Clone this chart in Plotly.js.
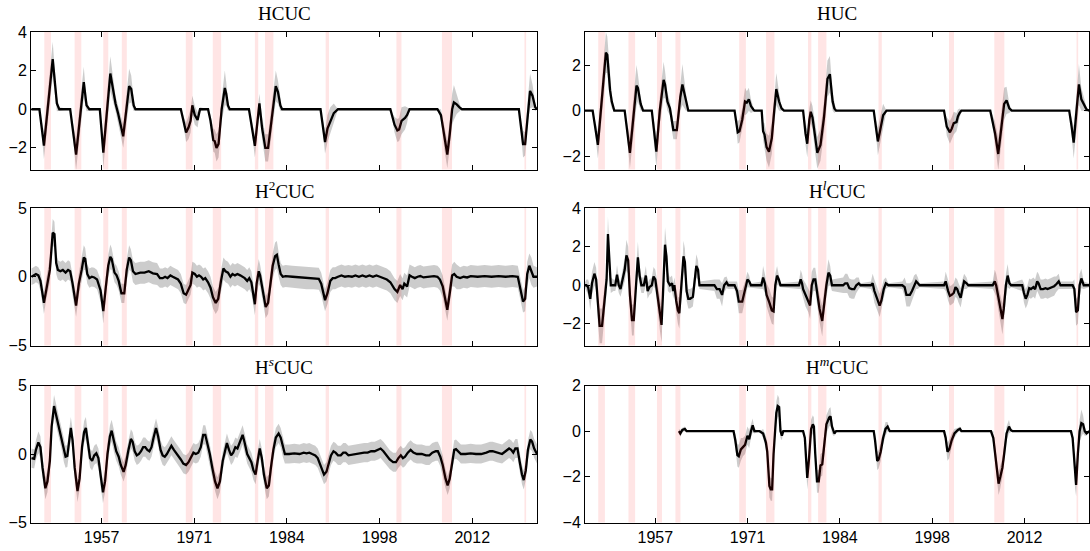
<!DOCTYPE html>
<html>
<head>
<meta charset="utf-8">
<script src="https://cdn.plot.ly/plotly-3.0.1.min.js"></script>
<style>html,body{margin:0;padding:0;background:#fff;}#chart{width:1090px;height:551px;}</style>
</head>
<body>
<div id="chart"></div>
<script>
// ---- Data ----
const recStart = [1948.75, 1953.25, 1957.5, 1960.25, 1969.75, 1973.75, 1980.0, 1981.5, 1990.5, 2001.0, 2007.75, 2020.0];
const recEnd   = [1949.75, 1954.25, 1958.25, 1961.0, 1970.75, 1975.0, 1980.5, 1982.75, 1991.0, 2001.75, 2009.25, 2020.25];
const tickYears = [1957.25, 1971.0, 1984.75, 1998.5, 2012.25];
const tickLabels = ['1957', '1971', '1984', '1998', '2012'];
const panelTitles = ['HCUC', 'HUC', 'H<sup>2</sup>CUC', 'H<sup><i>l</i></sup>CUC', 'H<sup><i>s</i></sup>CUC', 'H<sup><i>m</i></sup>CUC'];

// HCUC
const hcucX = [1946.85,1948.03,1948.70,1950.0,1950.62,1950.98,1952.59,1953.47,1954.61,1955.02,1955.44,1956.99,1957.51,1958.55,1959.32,1959.69,1960.46,1961.34,1961.65,1962.02,1962.28,1969.01,1969.79,1970.15,1970.46,1970.72,1971.08,1971.5,1971.86,1973.05,1973.42,1973.83,1974.04,1974.30,1974.61,1975.07,1975.54,1975.75,1976.01,1976.27,1979.12,1980.0,1980.67,1981.08,1981.55,1981.96,1983.1,1983.42,1983.78,1984.04,1989.74,1990.41,1990.77,1991.19,1991.71,1992.33,2000.10,2000.72,2001.14,2001.40,2001.76,2002.28,2002.59,2002.95,2007.09,2007.61,2008.13,2008.55,2008.91,2009.27,2009.53,2009.95,2010.36,2010.72,2019.17,2019.79,2020.10,2020.51,2020.83,2021.19,2021.60,2021.86];
const hcucEst = [0,0,-1.88,2.6,0.3,0,0,-2.35,1.4,0.2,0,0,-2.25,1.85,0.3,-0.2,-1.4,1.2,1.05,0.2,0,0,-1.2,-0.95,-0.6,0.2,-0.3,-0.55,0,0,-0.6,-1.6,-1.65,-2.0,-1.8,0,1.1,0.8,0.2,0,0,-1.9,0.3,-1.0,-2.0,-2.0,1.2,0.9,0.2,0,0,-1.7,-1.0,-0.6,-0.2,0,0,-0.8,-1.1,-1.05,-0.6,-0.45,-0.3,0,0,-0.3,-1.5,-2.35,-1.3,0,0.35,0.25,0.1,0,0,-1.8,-1.8,0,0.95,0.7,0.1,0];
const hcucErr = [0,0,0.7,0.9,0.4,0.1,0,0.8,0.8,0.3,0.05,0,0.8,0.9,0.4,0.4,0.6,0.9,0.7,0.3,0,0,0.5,0.6,0.6,0.5,0.5,0.4,0.1,0,0.3,0.6,0.6,0.7,0.7,0.6,0.9,0.6,0.3,0,0,0.6,0.5,0.6,0.7,0.7,0.8,0.6,0.3,0,0,0.6,0.7,0.7,0.5,0,0,0.4,0.6,0.6,0.7,0.6,0.4,0,0,0.3,0.6,0.7,0.7,0.8,0.9,0.5,0.2,0,0,0.7,0.6,0.6,0.9,0.6,0.2,0];

// HUC
const hucX = [1946.73,1947.92,1948.7,1949.89,1950.1,1950.51,1950.77,1951.14,1952.69,1953.47,1954.45,1954.66,1955.07,1955.44,1956.73,1957.04,1957.41,1957.92,1958.49,1958.7,1959.06,1959.43,1959.69,1959.94,1960.46,1960.98,1961.29,1961.81,1962.17,1969.06,1969.53,1969.79,1970.2,1970.62,1970.88,1971.19,1971.5,1971.86,1972.02,1973.1,1973.31,1973.52,1973.83,1974.19,1974.61,1974.97,1975.28,1975.69,1976.06,1976.42,1979.27,1979.63,1979.89,1980.2,1980.41,1980.67,1981.08,1981.39,1981.86,1982.38,1982.9,1983.26,1983.67,1983.93,1984.19,1989.79,1990.15,1990.41,1990.72,1991.19,1991.7,2000.26,2000.67,2001.14,2001.4,2001.71,2002.12,2002.33,2002.59,2002.85,2007.15,2007.51,2007.87,2008.34,2008.75,2009.22,2009.58,2009.99,2010.36,2018.91,2019.27,2019.58,2020.0,2020.36,2020.72,2021.08,2021.5,2021.91];
const hucEst = [0,0,-1.5,2.55,2.45,0.9,0.4,0,0,-1.85,1.1,1.0,0.3,0,0,-0.9,-1.8,0,1.35,1.15,0.4,0.1,-0.4,-0.85,-0.85,0.6,1.15,0.4,0,0,-0.95,-0.9,-0.4,0.4,0.35,0.5,0.2,0.05,0,0,-0.9,-1.05,-1.6,-1.8,-1.2,0,0.95,0.4,0.1,0,0,-1.0,-1.45,-0.4,-0.05,-0.3,-1.3,-1.85,-1.5,-0.3,1.4,1.6,0.4,0.1,0,0,-0.8,-1.35,-0.9,-0.2,0,0,-0.7,-0.95,-0.8,-0.55,-0.5,-0.25,-0.1,0,0,-0.5,-1.0,-1.9,-0.9,0.3,0.45,0.1,0,0,-0.7,-1.4,0,1.15,0.5,0.3,0.05,0];
const hucErr = [0,0,0.6,0.9,0.8,0.5,0.3,0,0,0.7,0.9,0.6,0.3,0,0,0.5,0.7,0.6,0.8,0.6,0.4,0.3,0.4,0.4,0.4,0.6,0.9,0.4,0,0,0.5,0.5,0.5,0.6,0.5,0.5,0.3,0.1,0,0,0.4,0.5,0.6,0.7,0.7,0.6,0.7,0.4,0.1,0,0,0.5,0.6,0.5,0.5,0.5,0.6,0.7,0.7,0.7,0.8,0.8,0.4,0.2,0,0,0.4,0.6,0.6,0.5,0,0,0.4,0.5,0.5,0.5,0.4,0.3,0.2,0,0,0.3,0.5,0.7,0.7,0.7,0.6,0.2,0,0,0.4,0.7,0.7,0.9,0.5,0.3,0.1,0];

// H2CUC
const h2X = [1946.85,1947.25,1947.51,1947.87,1948.18,1948.70,1949.06,1949.58,1950.0,1950.26,1950.52,1950.77,1951.14,1951.50,1951.91,1952.28,1952.59,1952.95,1953.47,1953.88,1954.30,1954.61,1954.82,1955.13,1955.44,1955.80,1956.16,1956.58,1957.10,1957.51,1957.87,1958.24,1958.55,1958.75,1959.17,1959.48,1959.79,1960.20,1960.62,1960.98,1961.34,1961.60,1961.91,1962.28,1963.0,1963.62,1964.25,1964.87,1965.49,1965.91,1966.32,1966.68,1967.04,1967.46,1967.82,1968.24,1968.60,1969.01,1969.43,1969.79,1970.15,1970.46,1970.72,1971.08,1971.40,1971.71,1972.02,1972.33,1972.64,1973.05,1973.42,1973.78,1974.19,1974.56,1974.97,1975.33,1975.64,1976.01,1976.37,1976.68,1977.04,1977.41,1977.82,1978.18,1978.49,1978.86,1979.17,1979.48,1979.74,1980.0,1980.26,1980.57,1980.77,1981.03,1981.34,1981.60,1981.96,1982.28,1982.64,1983.0,1983.26,1983.52,1983.83,1984.14,1984.56,1985.59,1986.63,1987.67,1988.70,1989.48,1989.84,1990.15,1990.41,1990.77,1991.19,1991.55,1991.91,1992.33,1992.85,1993.36,1993.88,1994.40,1994.92,1995.44,1995.96,1996.48,1997.0,1997.51,1998.03,1998.55,1999.07,1999.58,2000.10,2000.72,2001.14,2001.55,2001.91,2002.17,2002.59,2002.95,2003.31,2003.73,2004.14,2004.55,2005.02,2005.54,2006.06,2006.58,2007.09,2007.46,2007.87,2008.23,2008.55,2008.91,2009.27,2009.58,2009.94,2010.46,2010.98,2011.50,2012.02,2013.05,2014.09,2015.12,2016.16,2017.20,2018.23,2019.01,2019.37,2019.79,2020.10,2020.41,2020.72,2021.03,2021.34,2021.86];
const h2Est = [0.0,0.1,0.2,0.1,-0.3,-1.9,-0.8,0.5,3.2,3.1,1.0,0.5,0.4,0.5,0.3,0.5,0.4,-0.5,-2.1,-0.5,0.5,1.4,1.3,0.2,-0.1,0.0,-0.05,-0.2,-1.0,-2.5,-0.8,0.8,1.45,1.3,0.3,0.1,-0.3,-1.2,-1.2,0.5,1.4,1.2,0.4,0.2,0.3,0.3,0.4,0.25,0.2,-0.1,-0.1,0.0,-0.1,0.1,0.0,-0.1,-0.2,-0.5,-1.2,-1.3,-0.9,-0.6,0.3,0.2,0.0,0.1,0.0,-0.2,-0.1,-0.4,-0.8,-1.5,-1.9,-1.6,-0.3,0.6,0.4,0.3,0.0,0.2,0.1,0.2,0.1,0.0,-0.1,-0.3,-0.1,-0.4,-1.2,-2.0,-0.5,0.4,0.1,-0.6,-1.4,-2.2,-1.9,-0.5,0.8,1.5,1.6,0.9,0.2,0.0,0.05,0.0,-0.05,-0.1,-0.1,-0.15,-0.5,-1.2,-1.7,-1.2,-0.3,-0.1,-0.1,0.0,0.1,0.0,0.05,0.0,0.1,0.0,0.1,0.0,0.1,0.0,0.1,0.0,-0.1,-0.2,-0.4,-0.9,-1.1,-0.6,-0.9,-0.5,-0.7,0.1,0.0,-0.1,0.0,0.05,-0.05,0.0,0.05,0.05,0.0,-0.2,-0.7,-1.6,-2.4,-1.2,0.1,0.2,0.0,-0.1,0.0,-0.05,0.05,0.0,0.05,0.0,0.05,0.0,0.05,0.0,-0.8,-1.8,-1.6,0.2,0.8,0.4,0.0,0.0];
const h2Err = [0.6,0.6,0.6,0.6,0.7,0.8,0.8,0.9,1.0,0.9,0.8,0.7,0.7,0.7,0.7,0.7,0.7,0.7,0.8,0.8,0.8,0.9,0.8,0.7,0.7,0.7,0.7,0.7,0.8,0.9,0.8,0.8,0.9,0.8,0.7,0.7,0.7,0.7,0.7,0.8,0.9,0.8,0.8,0.8,0.8,0.8,0.8,0.8,0.8,0.7,0.7,0.7,0.7,0.7,0.7,0.7,0.7,0.7,0.7,0.7,0.7,0.7,0.8,0.8,0.8,0.8,0.8,0.8,0.8,0.8,0.8,0.8,0.8,0.8,0.8,0.8,0.8,0.8,0.8,0.8,0.8,0.8,0.8,0.8,0.8,0.8,0.8,0.8,0.8,0.8,0.8,0.9,0.8,0.8,0.8,0.8,0.8,0.8,0.9,1.0,1.0,0.9,0.8,0.8,0.8,0.8,0.8,0.8,0.8,0.8,0.8,0.8,0.8,0.8,0.8,0.8,0.8,0.8,0.8,0.8,0.8,0.8,0.8,0.8,0.8,0.8,0.8,0.8,0.8,0.8,0.8,0.8,0.8,0.8,0.8,0.8,0.8,0.8,0.8,0.8,0.8,0.8,0.8,0.8,0.8,0.8,0.8,0.8,0.8,0.8,0.8,0.8,0.8,0.9,0.8,0.9,0.9,0.8,0.8,0.8,0.8,0.8,0.8,0.8,0.8,0.8,0.8,0.8,0.8,0.8,0.9,0.9,0.9,1.0,0.8,0.7,0.7];

// HlCUC
const hlX = [1946.73,1946.99,1947.25,1947.56,1947.82,1948.18,1948.44,1948.70,1948.96,1949.32,1949.74,1950.0,1950.20,1950.41,1950.62,1951.03,1951.29,1951.55,1951.81,1952.07,1952.38,1952.69,1952.95,1953.21,1953.47,1953.78,1954.04,1954.35,1954.66,1954.92,1955.18,1955.54,1955.85,1956.11,1956.37,1956.73,1956.99,1957.25,1957.51,1957.92,1958.18,1958.39,1958.70,1958.91,1959.12,1959.43,1959.74,1959.94,1960.10,1960.36,1960.62,1960.83,1961.03,1961.29,1961.45,1961.66,1961.91,1962.17,1962.43,1962.85,1963.05,1963.36,1963.62,1963.83,1966.06,1966.42,1966.83,1967.20,1967.51,1967.87,1968.13,1969.06,1969.43,1969.69,1970.20,1970.62,1970.98,1971.24,1971.50,1973.05,1973.31,1973.57,1973.83,1974.25,1974.61,1974.87,1975.13,1975.39,1975.65,1975.90,1978.65,1978.91,1979.11,1979.27,1979.63,1980.05,1980.31,1980.56,1980.82,1981.08,1981.34,1981.71,1982.12,1982.43,1982.74,1983.05,1983.31,1983.57,1985.23,1985.54,1985.85,1986.16,1986.52,1986.89,1987.20,1987.56,1987.82,1989.37,1989.63,1989.89,1990.31,1990.67,1990.93,1991.29,1991.60,1991.97,1994.04,1994.40,1994.66,1995.18,1995.49,1995.80,1996.11,1996.37,1996.63,2000.26,2000.51,2000.88,2001.14,2001.40,2001.71,2001.97,2002.23,2002.43,2002.74,2003.0,2003.26,2003.62,2003.88,2007.51,2007.82,2008.03,2008.28,2008.65,2008.96,2009.17,2009.48,2009.74,2010.0,2010.26,2011.91,2012.17,2012.43,2012.69,2012.95,2013.21,2013.57,2013.83,2014.14,2014.35,2014.66,2015.02,2015.38,2015.69,2016.05,2016.31,2016.67,2016.98,2017.35,2017.61,2019.42,2019.68,2019.94,2020.20,2020.46,2020.72,2021.08,2021.91];
const hlEst = [0,0,-0.1,-0.7,0.1,0.6,0.3,-1.2,-2.1,-2.1,-0.6,0.3,2.65,1.5,0.0,0.0,0.0,0.55,0.0,-0.2,0.3,0.8,1.55,1.3,-0.5,-1.8,-1.8,0.0,1.45,0.5,0.0,0.0,0.5,-0.3,-0.1,0.0,0.45,0.3,-0.4,-1.5,-2.05,-0.5,2.1,1.5,0.2,0.0,0.1,-0.3,0.0,-0.8,-1.3,-1.45,-0.5,0.4,1.5,1.2,-0.3,-0.7,-0.7,-0.6,0.0,1.0,0.8,0.0,0.0,-0.2,-0.2,-0.5,0.0,0.15,0.0,0.0,-0.3,-0.85,-0.85,-0.3,0.3,0.2,0.0,0.0,0.4,0.1,-0.5,-0.9,-1.3,-1.35,0.0,0.5,0.3,0.0,0.0,0.3,0.1,-0.2,-0.5,-0.8,-1.05,0.0,0.3,0.3,-0.3,-1.2,-1.85,-0.8,0.0,0.65,0.5,0.0,0.0,0.1,0.1,-0.15,-0.2,-0.2,0.0,0.1,0.0,0.0,0.1,-0.3,-0.7,-1.05,-0.8,-0.2,0.1,0.0,0.0,-0.1,-0.5,-0.5,-0.3,0.0,0.2,0.1,0.0,0.0,0.2,-0.3,-0.55,-0.5,-0.4,-0.1,-0.2,-0.4,-0.65,-0.2,0.2,0.1,0.0,0.0,0.2,0.0,-0.5,-1.2,-1.75,-1.2,0.0,0.5,0.1,0.0,0.0,-0.4,-0.7,-0.5,-0.15,-0.2,-0.1,-0.2,0.2,0.1,-0.2,-0.2,-0.15,-0.2,-0.15,-0.1,-0.05,0.05,0.2,0.0,0.0,-0.2,-1.4,-1.3,0.0,0.35,0.0,0.0];
const hlErr = [0.1,0.3,0.4,0.6,0.6,0.6,0.6,0.7,0.9,0.9,0.7,0.7,0.9,0.7,0.4,0.3,0.3,0.5,0.4,0.4,0.5,0.6,0.8,0.7,0.6,0.8,0.8,0.6,0.8,0.5,0.4,0.4,0.5,0.4,0.4,0.4,0.5,0.5,0.6,0.8,0.9,0.7,0.9,0.7,0.5,0.4,0.4,0.4,0.4,0.6,0.7,0.8,0.7,0.7,0.8,0.7,0.5,0.5,0.5,0.5,0.5,0.6,0.5,0.2,0.3,0.5,0.5,0.6,0.4,0.3,0.2,0.2,0.5,0.6,0.6,0.5,0.4,0.3,0.1,0.2,0.6,0.5,0.6,0.7,0.7,0.7,0.6,0.5,0.3,0.1,0.2,0.5,0.5,0.5,0.6,0.6,0.7,0.7,0.6,0.6,0.6,0.7,0.8,0.7,0.6,0.7,0.5,0.3,0.4,0.5,0.5,0.5,0.5,0.5,0.4,0.3,0.1,0.2,0.5,0.6,0.6,0.6,0.6,0.5,0.3,0.1,0.2,0.5,0.6,0.6,0.5,0.5,0.4,0.3,0.1,0.2,0.5,0.5,0.5,0.5,0.5,0.5,0.5,0.5,0.5,0.5,0.4,0.3,0.1,0.2,0.6,0.6,0.6,0.7,0.8,0.7,0.6,0.6,0.3,0.1,0.3,0.5,0.5,0.5,0.5,0.5,0.5,0.5,0.5,0.5,0.5,0.5,0.5,0.5,0.5,0.5,0.5,0.4,0.4,0.2,0.2,0.5,0.7,0.7,0.6,0.5,0.2,0.1];

// HsCUC
const hsX = [1946.85,1947.25,1947.51,1947.87,1948.18,1948.49,1948.91,1949.22,1949.58,1949.84,1950.20,1950.52,1950.88,1951.29,1951.66,1951.91,1952.17,1952.43,1952.69,1952.95,1953.26,1953.68,1953.99,1954.35,1954.66,1954.92,1955.18,1955.54,1955.85,1956.16,1956.47,1956.78,1957.10,1957.46,1957.77,1958.13,1958.49,1958.75,1959.06,1959.43,1959.79,1960.10,1960.52,1960.83,1961.24,1961.60,1961.86,1962.17,1962.48,1962.80,1963.11,1963.42,1963.73,1964.04,1964.35,1964.66,1964.97,1965.33,1965.64,1966.01,1966.32,1966.63,1966.94,1967.25,1967.61,1967.98,1968.29,1968.60,1969.01,1969.38,1969.79,1970.15,1970.57,1970.88,1971.24,1971.60,1971.97,1972.33,1972.64,1972.95,1973.31,1973.68,1974.09,1974.45,1974.81,1975.23,1975.59,1975.85,1976.16,1976.47,1976.78,1977.10,1977.41,1977.82,1978.18,1978.49,1978.86,1979.17,1979.48,1979.79,1980.10,1980.41,1980.72,1981.03,1981.34,1981.76,1982.07,1982.38,1982.74,1983.11,1983.52,1983.83,1984.14,1984.45,1985.07,1985.85,1986.63,1987.25,1987.67,1988.08,1988.50,1988.96,1989.32,1989.74,1990.26,1990.62,1990.98,1991.29,1991.66,1991.97,1992.33,1992.74,1993.11,1993.47,1993.88,1994.40,1994.92,1995.54,1996.21,1996.73,1997.25,1997.77,1998.29,1998.65,1999.07,1999.48,2000.0,2000.51,2000.93,2001.29,2001.65,2001.97,2002.28,2002.69,2003.11,2003.52,2004.04,2004.76,2005.38,2005.90,2006.32,2006.84,2007.15,2007.51,2007.87,2008.29,2008.60,2008.91,2009.27,2009.58,2009.84,2010.21,2010.57,2011.24,2012.02,2012.80,2013.57,2014.35,2014.87,2015.28,2015.90,2016.68,2017.20,2017.72,2018.03,2018.34,2018.65,2018.96,2019.27,2019.63,2019.89,2020.20,2020.51,2020.87,2021.13,2021.44,2021.75,2021.86];
const hsEst = [-0.3,-0.35,0.3,0.85,0.5,-1.0,-2.5,-2.0,-0.5,2.0,3.5,2.8,2.0,1.2,0.2,-0.2,-0.15,1.0,1.9,1.0,-1.0,-2.7,-1.8,0.5,1.6,1.9,1.0,-0.3,-0.5,-0.1,0.05,-0.3,-1.5,-2.8,-2.0,0.0,1.3,1.7,1.0,0.2,-0.2,-0.8,-1.3,-0.8,0.3,1.1,0.9,0.2,-0.1,0.0,0.2,0.5,0.5,0.3,0.2,0.5,1.2,1.9,1.3,0.3,-0.1,-0.2,0.0,0.3,0.6,0.3,0.1,-0.1,-0.4,-0.7,-0.8,-0.6,-0.2,0.1,0.0,0.1,0.5,1.4,1.4,0.8,0.0,-1.0,-2.0,-2.5,-2.0,-0.5,0.4,0.8,0.3,-0.1,0.1,0.5,0.4,0.9,1.4,0.8,0.0,-0.3,-0.6,-1.2,-1.5,-0.5,0.4,-0.3,-1.5,-2.5,-2.3,-1.0,0.3,1.2,1.5,1.2,0.5,0.0,0.0,0.05,0.0,0.1,0.05,0.1,0.0,-0.1,-0.3,-0.9,-1.5,-1.3,-0.6,-0.1,0.2,0.1,-0.1,-0.1,0.1,0.1,-0.1,-0.05,0.0,0.05,0.1,0.1,0.2,0.2,0.3,0.4,0.2,-0.1,-0.4,-0.6,-0.6,-0.3,-0.1,-0.3,-0.2,0.1,0.3,0.1,0.0,0.0,-0.1,-0.1,0.1,0.2,0.2,-0.2,-0.8,-1.8,-2.3,-1.8,-0.5,0.3,0.35,0.2,0.0,0.0,0.05,0.0,0.0,0.1,0.2,0.2,0.1,0.0,0.2,0.4,0.3,0.1,0.4,0.4,-0.5,-1.5,-1.9,-1.2,0.3,1.05,0.9,0.4,0.1,0.0];
const hsErr = [0.7,0.7,0.7,0.8,0.8,0.8,0.8,0.8,0.8,0.8,0.8,0.8,0.8,0.8,0.8,0.8,0.8,0.8,0.8,0.8,0.8,0.8,0.8,0.8,0.8,0.8,0.8,0.7,0.7,0.7,0.7,0.7,0.8,0.8,0.8,0.8,0.8,0.8,0.8,0.7,0.7,0.7,0.7,0.7,0.7,0.7,0.7,0.7,0.7,0.7,0.7,0.7,0.7,0.7,0.7,0.7,0.7,0.7,0.7,0.7,0.7,0.7,0.7,0.7,0.7,0.7,0.7,0.7,0.7,0.7,0.7,0.7,0.7,0.7,0.7,0.7,0.7,0.7,0.7,0.7,0.7,0.7,0.7,0.8,0.8,0.7,0.7,0.7,0.7,0.7,0.7,0.7,0.7,0.7,0.7,0.7,0.7,0.7,0.7,0.7,0.7,0.7,0.7,0.7,0.7,0.8,0.8,0.7,0.7,0.7,0.7,0.7,0.7,0.7,0.7,0.7,0.7,0.7,0.7,0.7,0.7,0.7,0.7,0.7,0.7,0.7,0.7,0.7,0.7,0.7,0.7,0.7,0.7,0.7,0.7,0.7,0.7,0.7,0.7,0.7,0.7,0.7,0.7,0.7,0.7,0.7,0.7,0.7,0.7,0.7,0.7,0.7,0.7,0.7,0.7,0.7,0.7,0.7,0.7,0.7,0.7,0.7,0.7,0.7,0.7,0.7,0.7,0.7,0.7,0.7,0.7,0.7,0.7,0.7,0.7,0.7,0.7,0.7,0.7,0.7,0.7,0.7,0.7,0.7,0.7,0.7,0.7,0.7,0.7,0.7,0.7,0.7,0.7,0.7,0.7,0.7,0.7,0.7];

// HmCUC
const hmX = [1960.77,1960.98,1961.29,1961.66,1961.91,1968.91,1969.17,1969.48,1969.69,1970.0,1970.31,1970.62,1970.98,1971.24,1971.50,1971.76,1972.02,1972.79,1973.31,1973.73,1973.93,1974.25,1974.45,1974.66,1974.87,1975.07,1975.28,1975.49,1975.70,1975.90,1976.11,1976.32,1979.27,1979.53,1979.69,1979.89,1980.15,1980.46,1980.72,1980.88,1981.08,1981.34,1981.60,1981.86,1982.12,1982.43,1982.74,1983.16,1983.36,1983.57,1983.78,1983.93,1984.19,1989.79,1989.99,1990.31,1990.51,1990.83,1991.19,1991.55,1991.86,1992.17,2000.26,2000.51,2000.77,2001.03,2001.40,2001.81,2002.33,2002.64,2002.85,2007.25,2007.61,2008.03,2008.39,2008.65,2008.96,2009.22,2009.58,2009.94,2010.20,2010.46,2019.16,2019.42,2019.78,2019.94,2020.20,2020.46,2020.72,2020.98,2021.23,2021.49,2021.91];
const hmEst = [0.0,-0.1,0.05,0.1,0.0,0.0,-0.4,-1.05,-1.1,-0.8,-0.7,-0.6,-0.2,-0.35,0.0,0.25,0.0,0.0,-0.1,-0.5,-0.9,-2.4,-2.55,-2.55,-1.0,0.0,0.8,1.1,1.05,0.0,-0.2,0.0,0.0,-0.3,-1.0,-2.05,-1.2,0.1,0.3,0.2,-1.0,-2.2,-2.2,-1.5,-1.45,-0.5,0.3,0.6,0.65,0.2,0.0,-0.1,0.0,0.0,-0.4,-1.3,-1.25,-0.9,-0.3,0.1,0.2,0.0,0.0,-0.3,-0.9,-0.8,-0.4,-0.1,0.05,0.1,0.0,0.0,-0.3,-1.4,-2.3,-2.0,-1.6,-1.0,-0.1,0.2,0.05,0.0,0.0,-0.3,-2.0,-2.35,-1.0,0.0,0.35,0.3,0.0,-0.1,0.0];
const hmErr = [0.1,0.15,0.1,0.1,0.0,0.0,0.3,0.5,0.5,0.5,0.4,0.4,0.4,0.4,0.3,0.3,0.1,0.0,0.2,0.3,0.4,0.5,0.5,0.5,0.5,0.4,0.5,0.5,0.4,0.3,0.2,0.0,0.0,0.2,0.4,0.5,0.5,0.4,0.4,0.4,0.5,0.5,0.5,0.5,0.5,0.4,0.4,0.4,0.4,0.3,0.2,0.1,0.0,0.0,0.3,0.4,0.4,0.4,0.3,0.3,0.2,0.0,0.0,0.3,0.4,0.4,0.3,0.2,0.1,0.1,0.0,0.0,0.3,0.4,0.5,0.5,0.4,0.4,0.3,0.3,0.1,0.0,0.0,0.3,0.5,0.5,0.5,0.5,0.6,0.4,0.2,0.1,0.0];

// ---- Panels ----
const panels = [
  {x: hcucX, est: hcucEst, err: hcucErr, yr: [-3.12, 4], yt: [-2, 0, 2, 4]},
  {x: hucX,  est: hucEst,  err: hucErr,  yr: [-2.58, 3.45], yt: [-2, 0, 2]},
  {x: h2X,   est: h2Est,   err: h2Err,   yr: [-5, 5], yt: [-5, 0, 5]},
  {x: hlX,   est: hlEst,   err: hlErr,   yr: [-3.12, 4], yt: [-2, 0, 2, 4]},
  {x: hsX,   est: hsEst,   err: hsErr,   yr: [-5, 5], yt: [-5, 0, 5]},
  {x: hmX,   est: hmEst,   err: hmErr,   yr: [-4, 2], yt: [-4, -2, 0, 2]}
];

const W = 1090, H = 551;
const colPx = [[31, 537], [585, 1089]];
const rowPx = [[32, 169.5], [208, 345.5], [385.5, 522.5]];
const titleYpx = [13, 190, 366];
const xRange = [1946.78, 2021.86];

const traces = [];
const layout = {
  width: W, height: H,
  margin: {l: 0, r: 0, t: 0, b: 0, pad: 0},
  paper_bgcolor: '#ffffff', plot_bgcolor: '#ffffff',
  showlegend: false,
  shapes: [], annotations: []
};

panels.forEach((p, i) => {
  const col = i % 2, row = Math.floor(i / 2);
  const n = i + 1;
  const xa = n === 1 ? 'x' : 'x' + n, ya = n === 1 ? 'y' : 'y' + n;
  const xk = n === 1 ? 'xaxis' : 'xaxis' + n, yk = n === 1 ? 'yaxis' : 'yaxis' + n;
  const hi = p.est.map((v, k) => v + p.err[k]);
  const lo = p.est.map((v, k) => v - p.err[k]);
  traces.push({
    x: p.x.concat(p.x.slice().reverse()),
    y: hi.concat(lo.slice().reverse()),
    xaxis: xa, yaxis: ya, type: 'scatter', mode: 'lines',
    fill: 'toself', fillcolor: 'rgba(0,0,0,0.2)', line: {width: 0}, hoverinfo: 'skip'
  });
  traces.push({
    x: p.x, y: p.est, xaxis: xa, yaxis: ya, type: 'scatter', mode: 'lines',
    line: {color: '#000000', width: 2.3}, hoverinfo: 'skip'
  });
  const d = colPx[col], r = rowPx[row];
  layout[xk] = {
    domain: [d[0] / W, d[1] / W], anchor: ya, range: xRange,
    tickmode: 'array', tickvals: tickYears, ticktext: tickLabels,
    showticklabels: row === 2,
    ticks: 'inside', ticklen: 5, tickwidth: 1, tickcolor: '#000',
    showline: true, linecolor: '#000', linewidth: 1, mirror: 'ticks',
    showgrid: false, zeroline: false,
    tickfont: {family: 'Liberation Sans, Arial, sans-serif', size: 16, color: '#000'}
  };
  layout[yk] = {
    domain: [1 - r[1] / H, 1 - r[0] / H], anchor: xa, range: p.yr,
    tickmode: 'array', tickvals: p.yt,
    ticks: 'inside', ticklen: 5, tickwidth: 1, tickcolor: '#000',
    showline: true, linecolor: '#000', linewidth: 1, mirror: 'ticks',
    showgrid: false, zeroline: false,
    tickfont: {family: 'Liberation Sans, Arial, sans-serif', size: 16, color: '#000'}
  };
  recStart.forEach((s, k) => {
    layout.shapes.push({
      type: 'rect', xref: xa, yref: ya + ' domain', x0: s, x1: recEnd[k], y0: 0, y1: 1,
      fillcolor: 'rgba(255,0,0,0.1)', line: {width: 0}, layer: 'above'
    });
  });
  layout.annotations.push({
    text: panelTitles[i], xref: 'paper', yref: 'paper',
    x: (d[0] + d[1]) / 2 / W, y: 1 - titleYpx[row] / H,
    xanchor: 'center', yanchor: 'middle', showarrow: false,
    font: {family: 'Liberation Serif, Times New Roman, serif', size: 19, color: '#000'}
  });
});

Plotly.newPlot('chart', traces, layout, {staticPlot: true, displayModeBar: false});
</script>
</body>
</html>
